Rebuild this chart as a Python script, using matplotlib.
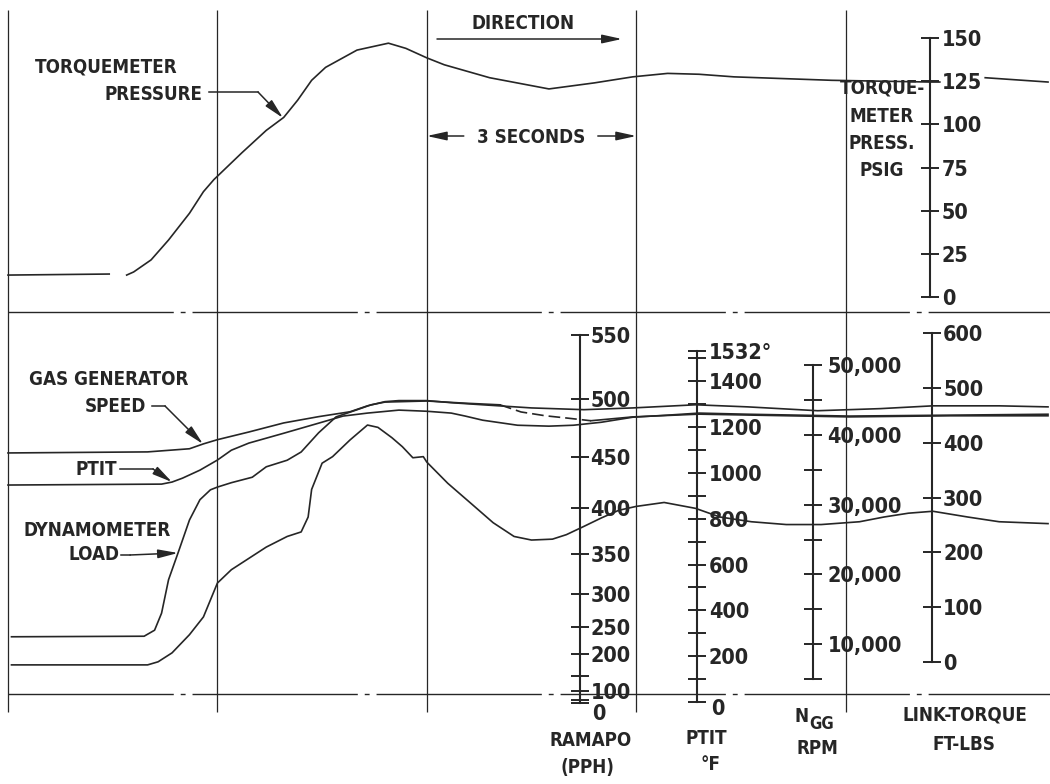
import numpy as np
import matplotlib
matplotlib.use('Agg')
import matplotlib.pyplot as plt
from matplotlib import font_manager, transforms

W, H = 1050, 784
INK = '#262626'
X0 = 8                      # left edge of the chart paper, px
PX_PER_S = 69.8             # chart speed
T_END = (W - X0) / PX_PER_S

# ---- recorded traces ---------------------------------------------------
grid_t = [0, 3, 6, 9, 12]

torque_t = [0.0, 1.45, 1.55, 1.7, 1.8, 2.05, 2.3, 2.6, 2.8, 2.95,
            3.35, 3.7, 3.95, 4.15, 4.35, 4.55, 5.0, 5.45, 5.7, 6.0,
            6.25, 6.9, 7.75, 8.4, 8.95, 9.45, 9.9, 10.4, 11.8, 13.2,
            13.35, 13.6, 14.0, 14.9]
torque_psig = [12.7, 13.3, np.nan, 12.7, 14.5, 21.5, 33, 48.5, 61, 68,
               83.5, 96.5, 104, 114, 125.5, 133, 143, 147, 144, 138.5,
               134.5, 127, 120.5, 124, 127.5, 129.5, 129, 127.5, 125.5, 124.5,
               124.5, np.nan, 127, 124.5]

ngg_t = [0, 2.0, 2.6, 2.8, 3.0, 3.45, 3.95, 4.45, 4.9, 5.15,
         5.4, 5.6, 6.0, 6.35, 6.8, 7.5, 8.25, 8.95, 9.85, 10.6,
         11.6, 12.5, 13.25, 14.2, 14.9]
ngg_rpm = [37400, 37550, 38000, 38700, 39300, 40400, 41700, 42600, 43300, 44150,
           44750, 44900, 44900, 44600, 44300, 43850, 43600, 43850, 44300, 44000,
           43450, 43750, 44150, 44150, 44000]

ptit_t = [0, 2.2, 2.35, 2.5, 2.75, 3.0, 3.2, 3.45, 3.95, 4.45,
          4.8, 5.15, 5.6, 6.0, 6.35, 6.55, 6.8, 7.3, 7.75, 8.1,
          8.5, 8.95, 9.45, 9.9, 10.6, 12.05, 13.5, 14.9]
ptit_f = [947, 951, 960, 977, 1012, 1056, 1099, 1130, 1173, 1217,
          1248, 1261, 1274, 1269, 1261, 1248, 1230, 1208, 1204, 1208,
          1221, 1243, 1252, 1261, 1256, 1248, 1252, 1256]

load_t = [0.05, 1.95, 2.1, 2.2, 2.3, 2.45, 2.6, 2.75, 2.9, 3.0,
          3.2, 3.5, 3.7, 4.0, 4.2, 4.45, 4.7, 5.0, 5.2, 5.4,
          6.0, 6.55, 7.05, 7.35, 7.7, 8.0, 8.35, 8.95, 9.9, 12.05,
          13.5, 14.9]
load_ftlb = [46, 47, 58, 89, 150, 204, 259, 296, 314, 319,
             327, 337, 356, 368, 383, 418, 447, 460, 469, 474,
             476, 472, 469, 456, 449, 445, 440, 447, 452, 447,
             449, 449]

fuel_t = [0.05, 2.0, 2.15, 2.35, 2.6, 2.8, 3.0, 3.2, 3.7, 4.0,
          4.2, 4.3, 4.35, 4.5, 4.65, 4.9, 5.15, 5.3, 5.5, 5.65,
          5.8, 5.95, 6.0, 6.3, 6.65, 6.95, 7.25, 7.5, 7.8, 8.0,
          8.25, 8.5, 8.75, 9.0, 9.4, 9.85, 10.2, 10.65, 11.15, 11.65,
          12.2, 12.55, 12.9, 13.25, 13.75, 14.2, 14.9]
fuel_pph = [177, 177, 184, 203, 237, 266, 314, 331, 358, 370,
            375, 391, 419, 444, 450, 465, 478, 476, 467, 459,
            449, 450, 445, 425, 404, 385, 370, 366, 367, 372,
            381, 390, 398, 402, 406, 400, 391, 386, 383, 383,
            386, 391, 395, 397, 391, 386, 384]

# scale ticks
torque_ticks = [0, 25, 50, 75, 100, 125, 150]
ramapo_ticks = list(range(0, 551, 50))
ramapo_labels = ['' if v in (0, 50, 150) else str(v) for v in ramapo_ticks]
ptit_ticks = list(range(0, 1501, 100)) + [1532]
ptit_labels = [str(v) if v % 200 == 0 and v > 0 else '' for v in ptit_ticks[:-1]] + ['1532°']
ngg_ticks = list(range(5000, 50001, 5000))
ngg_labels = [f'{v:,}' if v % 10000 == 0 else '' for v in ngg_ticks]
link_ticks = [0, 100, 200, 300, 400, 500, 600]

# ---- fonts -------------------------------------------------------------
names = {f.name for f in font_manager.fontManager.ttflist}
if 'Liberation Sans Narrow' in names:
    plt.rcParams['font.family'] = ['Liberation Sans Narrow', 'DejaVu Sans']
else:
    plt.rcParams['font.family'] = ['DejaVu Sans']
    plt.rcParams['font.stretch'] = 'condensed'
plt.rcParams['font.weight'] = 'bold'
plt.rcParams['text.color'] = INK

NUM_SIZE = 15.5
LBL_SIZE = 13.5

fig = plt.figure(figsize=(W / 100, H / 100), dpi=100, facecolor='white')


def box(x0, y0, x1, y1):
    return [x0 / W, 1 - y1 / H, (x1 - x0) / W, (y1 - y0) / H]


# chart paper: time across, pixel rows down
bg = fig.add_axes([0, 0, 1, 1])
bg.set_xlim(-X0 / PX_PER_S, T_END)
bg.set_ylim(H, 0)
bg.axis('off')
bg.vlines(grid_t, 10, 712, color=INK, lw=0.9)
bg.hlines([312, 694], 0, T_END, color=INK, lw=1.0, linestyles=[(0, (119, 5, 3.5, 5))])

PEN = dict(color=INK, lw=1.2, clip_on=False)


def scale_axes(top_px, bot_px, lo, hi, spine_px, ticks, labels, bounds, pad, yscale=None):
    ax = fig.add_axes(box(X0, top_px, W, bot_px))
    ax.patch.set_visible(False)
    if yscale is not None:
        ax.set_yscale('function', functions=yscale)
    ax.set_xlim(0, T_END)
    ax.set_ylim(lo, hi)
    for s in ('left', 'top', 'bottom'):
        ax.spines[s].set_visible(False)
    sp = ax.spines['right']
    sp.set_position(('axes', (spine_px - X0) / (W - X0)))
    sp.set_bounds(*bounds)
    sp.set_linewidth(1.5)
    sp.set_color(INK)
    ax.yaxis.tick_right()
    ax.set_yticks(ticks, labels)
    ax.yaxis.set_minor_locator(plt.NullLocator())
    ax.tick_params(axis='y', which='both', direction='inout', length=13, width=1.4,
                   pad=pad, colors=INK, labelsize=NUM_SIZE)
    ax.set_xticks([])
    return ax


def zero_label(ax, spine_px, dx, dy):
    tr = transforms.blended_transform_factory(ax.transAxes, ax.transData)
    ax.annotate('0', xy=((spine_px - X0) / (W - X0), 0), xycoords=tr,
                xytext=(dx, dy), textcoords='offset points', ha='left', va='top',
                fontsize=NUM_SIZE, color=INK)


# torquemeter pressure
ax_tq = scale_axes(38, 297, 0, 150, 930, torque_ticks, [str(v) for v in torque_ticks],
                   (0, 150), 2)
ax_tq.plot(torque_t, torque_psig, **PEN)

# fuel flow, square-law meter
sq = (lambda v: np.sign(v) * np.asarray(v, float) ** 2,
      lambda u: np.sign(u) * np.sqrt(np.abs(u)))
ax_ff = scale_axes(335, 703, 0, 550, 580, ramapo_ticks, ramapo_labels, (0, 550), 1, yscale=sq)
zero_label(ax_ff, 580, 9, -1)
ax_ff.plot(fuel_t, fuel_pph, **PEN)

# power turbine inlet temperature
ax_pt = scale_axes(351, 702, 0, 1532, 697, ptit_ticks, ptit_labels, (0, 1532), 2)
zero_label(ax_pt, 697, 10, 2)
ax_pt.plot(ptit_t, ptit_f, **PEN)

# gas generator speed
ax_ng = scale_axes(365, 714, 0, 50000, 813, ngg_ticks, ngg_labels, (5000, 50000), 4)
ax_ng.plot(ngg_t, ngg_rpm, **PEN)

# link torque / dynamometer load, pen trace dashed where it overlaps
ax_lt = scale_axes(333, 662, 0, 600, 932, link_ticks, [str(v) for v in link_ticks], (0, 600), 1.5)
lt = np.array(load_t)
lv = np.array(load_ftlb, float)
solid_a = lt <= 7.05
dashed = (lt >= 7.05) & (lt <= 8.35)
solid_b = lt >= 8.35
ax_lt.plot(lt[solid_a], lv[solid_a], **PEN)
ax_lt.plot(lt[dashed], lv[dashed], ls=(0, (7, 3)), **PEN)
ax_lt.plot(lt[solid_b], lv[solid_b], **PEN)

# ---- lettering ---------------------------------------------------------
ann = fig.add_axes([0, 0, 1, 1])
ann.set_xlim(0, W)
ann.set_ylim(H, 0)
ann.axis('off')

LBL = dict(fontsize=LBL_SIZE, ha='center', va='center', color=INK)
HEAD = dict(arrowstyle='-|>,head_length=1.0,head_width=0.22', color=INK, lw=1.1,
            shrinkA=0, shrinkB=0, mutation_scale=12)


def leader(text_pts, tip_ax, tip_t, t, v):
    """Horizontal run from a label, then an arrow onto the trace."""
    m = ~np.isnan(np.asarray(v, float))
    tip_v = np.interp(tip_t, np.asarray(t)[m], np.asarray(v, float)[m])
    xs, ys = zip(*text_pts)
    ann.plot(xs, ys, color=INK, lw=1.1)
    ann.annotate('', xy=(tip_t, tip_v), xycoords=tip_ax.transData,
                 xytext=text_pts[-1], textcoords='data', arrowprops=HEAD)


ann.text(523, 23, 'DIRECTION', **LBL)
ann.annotate('', xy=(622, 39), xytext=(437, 39), arrowprops=HEAD)

bg.text(7.5, 137, '3 SECONDS', **LBL)
bg.annotate('', xy=(6, 136), xytext=(6.53, 136), arrowprops=HEAD)
bg.annotate('', xy=(9, 136), xytext=(8.45, 136), arrowprops=HEAD)

ann.text(106, 67, 'TORQUEMETER', **LBL)
ann.text(153, 94, 'PRESSURE', **LBL)
leader([(209, 92), (258, 92)], ax_tq, (283 - X0) / PX_PER_S, torque_t, torque_psig)

for y, s in zip([88, 116, 143, 170], ['TORQUE-', 'METER', 'PRESS.', 'PSIG']):
    ann.text(882, y, s, **LBL)

ann.text(109, 379, 'GAS GENERATOR', **LBL)
ann.text(115, 406, 'SPEED', **LBL)
leader([(152, 406), (165, 406)], ax_ng, (203 - X0) / PX_PER_S, ngg_t, ngg_rpm)

ann.text(96, 469, 'PTIT', **LBL)
leader([(120, 469), (153, 469)], ax_pt, (172 - X0) / PX_PER_S, ptit_t, ptit_f)

ann.text(97, 530, 'DYNAMOMETER', **LBL)
ann.text(94, 554, 'LOAD', **LBL)
leader([(121, 555), (130, 555)], ax_lt, (178 - X0) / PX_PER_S, load_t, load_ftlb)

ann.text(591, 740, 'RAMAPO', **LBL)
ann.text(587, 768, '(PPH)', **LBL)
ann.text(706, 739, 'PTIT', **LBL)
ann.text(711, 765, '°F', **LBL)
ann.text(802, 716, 'N', **LBL)
ann.text(822, 724, 'GG', fontsize=LBL_SIZE - 1.5, ha='center', va='center', color=INK)
ann.text(817, 749, 'RPM', **LBL)
ann.text(965, 715, 'LINK-TORQUE', **LBL)
ann.text(964, 745, 'FT-LBS', **LBL)

fig.savefig('out.png', dpi=100, facecolor='white')
